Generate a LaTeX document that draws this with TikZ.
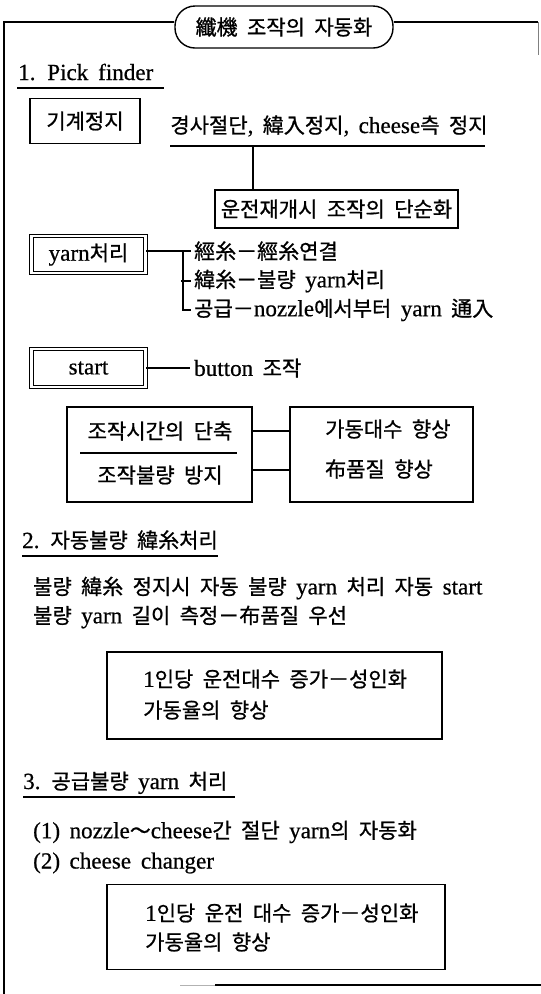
\documentclass[tikz,border=0pt]{standalone}
\usepackage{fontspec}
\setmainfont{Noto Sans CJK KR}[WordSpace=2,FakeBold=0.9]
\newfontfamily\enfont{Liberation Serif}[WordSpace=1.7,Scale=1.1,FakeBold=0.6]
\newcommand\en[1]{{\enfont #1}}
\usetikzlibrary{calc}
\tikzset{
  ln/.style={line width=1.4pt},
  boxa/.style={draw, line width=1.4pt, inner sep=0pt},
  dbox/.style={draw, double, line width=1pt, double distance=2.2pt, inner sep=0pt},
  txt/.style={inner sep=0pt, anchor=west, font=\fontsize{21}{24}\selectfont},
  ctxt/.style={inner sep=0pt, font=\fontsize{21}{24}\selectfont},
}
\begin{document}
\begin{tikzpicture}[x=1pt,y=-1pt]
\useasboundingbox (0,0) rectangle (541,994);
% frame
\node[draw, line width=1.4pt, rounded corners=20pt, fill=white, minimum width=218pt, minimum height=42pt, inner sep=0pt,
      font=\fontsize{21}{24}\selectfont] (title) at (284,27) {纖機 조작의 자동화};
\draw[ln] (4,994) -- (4,22) -- (title.west |- 4,22);
\draw[ln] (title.east |- 538,22) -- (538,22);
\draw[line width=0.8pt, gray] (538,22) -- (538,55);
\draw[line width=1pt, gray!60] (180,985) -- (215,985);
\draw[ln] (215,985) -- (541,985);
% 1. Pick finder
\node[txt, anchor=base west] (pick) at (18,80) {\en{1. Pick finder}};
\draw[ln] (17,88) -- (164,88);
\node[boxa, minimum width=110pt, minimum height=45pt] (kigye) at (85,121) {\fontsize{21}{24}\selectfont 기계정지};
\node[ctxt] (kyung) at (329,126) {경사절단\en{,} 緯入정지\en{,} \en{cheese}측 정지};
\draw[ln] (170,146) -- (485,146);
\coordinate (ul) at (253,146);
\node[boxa, minimum width=243pt, minimum height=38pt] (unjeon) at (336.5,209) {\fontsize{21}{24}\selectfont 운전재개시 조작의 단순화};
\draw[ln] (ul) -- (ul |- unjeon.north);
% yarn
\node[dbox, minimum width=114pt, minimum height=37pt] (yarnbox) at (88.5,254.5) {\fontsize{21}{24}\selectfont\en{yarn}처리};
\node[txt] (r1) at (194,251) {經糸－經糸연결};
\node[txt] (r2) at (194,281) {緯糸－불량 \en{yarn}처리};
\node[txt] (r3) at (194,310) {공급－\en{nozzle}에서부터 \en{yarn} 通入};
\coordinate (br) at (183,251);
\draw[ln] (yarnbox.east |- r1.west) -- ([xshift=-3pt]r1.west);
\draw[ln] (br) -- (br |- r3.west) -- ([xshift=-3pt]r3.west);
\draw[ln] ([xshift=-2pt]br |- r2.west) -- ([xshift=-3pt]r2.west);
% start
\node[dbox, minimum width=114pt, minimum height=38pt] (startbox) at (88.5,368) {\fontsize{21}{24}\selectfont\en{start}};
\node[txt] (btn) at (194,368) {\en{button} 조작};
\draw[ln] (startbox.east) -- ([xshift=-4pt]btn.west);
% big boxes
\node[boxa, minimum width=185pt, minimum height=95pt] (leftbig) at (159.5,454.5) {};
\node[boxa, minimum width=183pt, minimum height=95pt] (rightbig) at (381.5,454.5) {};
\node[ctxt] (s1) at (160,431) {조작시간의 단축};
\node[ctxt] (s2) at (160,475) {조작불량 방지};
\draw[ln] (80,453) -- (237,453);
\coordinate (c1) at (0,431);
\coordinate (c2) at (0,470);
\draw[ln] (leftbig.east |- c1) -- (rightbig.west |- c1);
\draw[ln] (leftbig.east |- c2) -- (rightbig.west |- c2);
\node[txt] (g1) at (325,429) {가동대수 향상};
\node[txt] (g2) at (325,469) {布품질 향상};
% 2.
\node[txt, anchor=base west] (sec2) at (22,548) {\en{2.} 자동불량 緯糸처리};
\draw[ln] (22,556) -- (218,556);
\node[txt] (p1) at (33,588) {불량 緯糸 정지시 자동 불량 \en{yarn} 처리 자동 \en{start}};
\node[txt] (p2) at (33,617) {불량 \en{yarn} 길이 측정－布품질 우선};
\node[boxa, minimum width=335pt, minimum height=87pt] (box2) at (274.5,695.5) {};
\node[txt] (b21) at (143,679) {\en{1}인당 운전대수 증가－성인화};
\node[txt] (b22) at (143,710) {가동율의 향상};
% 3.
\node[txt, anchor=base west] (sec3) at (23,789) {\en{3.} 공급불량 \en{yarn} 처리};
\draw[ln] (23,797) -- (235,797);
\node[txt] (q1) at (33,832) {\en{(1)} \en{nozzle}～\en{cheese}간 절단 \en{yarn}의 자동화};
\node[txt] (q2) at (33,863) {\en{(2)} \en{cheese changer}};
\node[boxa, minimum width=338pt, minimum height=85pt] (box3) at (276,927) {};
\node[txt] (b31) at (145,913) {\en{1}인당 운전 대수 증가－성인화};
\node[txt] (b32) at (145,942) {가동율의 향상};
\end{tikzpicture}
\end{document}
